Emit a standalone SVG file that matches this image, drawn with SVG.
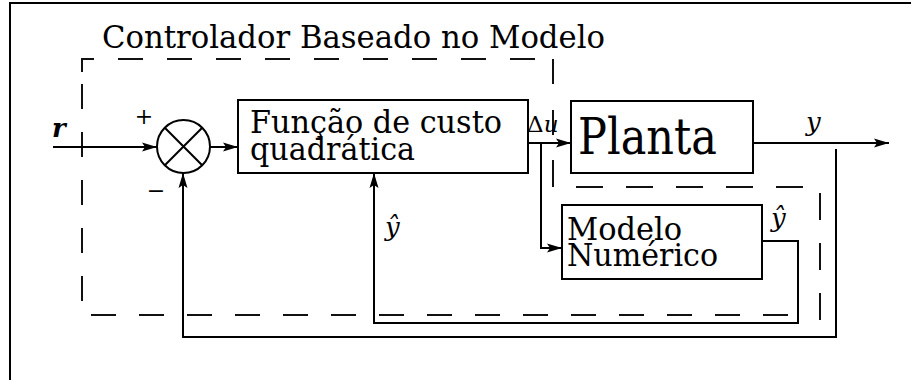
<svg xmlns="http://www.w3.org/2000/svg" width="911" height="380" viewBox="0 0 911 380">
<defs>
<marker id="arr" markerUnits="userSpaceOnUse" markerWidth="16" markerHeight="10" refX="15" refY="5" orient="auto">
<path d="M0,0.5 L15,5 L0,9.5 L3,5 z" fill="#000"/>
</marker>
<style>
.ln{fill:none;stroke:#000;stroke-width:2}
.dash{fill:none;stroke:#111;stroke-width:2;stroke-dasharray:25 24}
.box{fill:#fff;stroke:#000;stroke-width:2}
.con{fill:none;stroke:#000;stroke-width:2;marker-end:url(#arr)}
.t{font-family:"DejaVu Serif","Liberation Serif",serif;fill:#000}
.i{font-family:"DejaVu Serif","Liberation Serif",serif;font-style:italic;fill:#000}
</style>
</defs>
<rect width="911" height="380" fill="#fff"/>
<path class="ln" d="M10,380 V3 H911"/>
<g id="controller-frame">
<path class="dash" d="M82,72 V59 H553"/>
<path class="dash" d="M82,84 V315 H807" style="stroke-dasharray:25 23"/>
<path class="dash" d="M553,59 V85"/>
<path class="dash" d="M553,110 V135"/>
<path class="dash" d="M553,160 V187 H820 V333" style="stroke-dasharray:27 23"/>
<text class="t" x="102" y="48" font-size="31" textLength="503" lengthAdjust="spacingAndGlyphs">Controlador Baseado no Modelo</text>
</g>
<g id="connectors">
<path class="con" d="M53,147 H157"/>
<path class="con" d="M210,147 H238"/>
<path class="con" d="M528,143 H571"/>
<path class="con" d="M541,143 V248 H562"/>
<path class="con" d="M753,143 H889"/>
<path class="con" d="M836,149 V337 H183 V173"/>
<path class="con" d="M762,241 H798 V323 H374 V173"/>
</g>
<g id="sum">
<circle class="box" cx="183.5" cy="146.5" r="26.5"/>
<path class="ln" d="M164.8,127.8 L202.2,165.2 M202.2,127.8 L164.8,165.2"/>
<text class="t" x="144" y="124" font-size="22" text-anchor="middle">+</text>
<text class="t" x="156" y="198" font-size="22" text-anchor="middle">−</text>
</g>
<g id="cost">
<rect class="box" x="238" y="100" width="290" height="73"/>
<text class="t" x="250" y="133" font-size="31" textLength="252" lengthAdjust="spacingAndGlyphs">Função de custo</text>
<text class="t" x="250" y="160" font-size="31" textLength="165" lengthAdjust="spacingAndGlyphs">quadrática</text>
</g>
<g id="plant">
<rect class="box" x="571" y="101" width="182" height="72"/>
<text class="t" x="578" y="154" font-size="50" textLength="139" lengthAdjust="spacingAndGlyphs">Planta</text>
</g>
<g id="model">
<rect class="box" x="562" y="205" width="200" height="74"/>
<text class="t" x="567" y="240" font-size="31" textLength="115" lengthAdjust="spacingAndGlyphs">Modelo</text>
<text class="t" x="567" y="266" font-size="31" textLength="151" lengthAdjust="spacingAndGlyphs">Numérico</text>
</g>
<g id="labels">
<text class="i" x="52" y="137" font-size="26" font-weight="bold">r</text>
<text class="t" x="527" y="132" font-size="23">Δ<tspan font-style="italic">u</tspan></text>
<text class="i" x="806" y="131" font-size="26">y</text>
<text class="i" x="385" y="236" font-size="26">ŷ</text>
<text class="i" x="771" y="227" font-size="26">ŷ</text>
</g>
</svg>
